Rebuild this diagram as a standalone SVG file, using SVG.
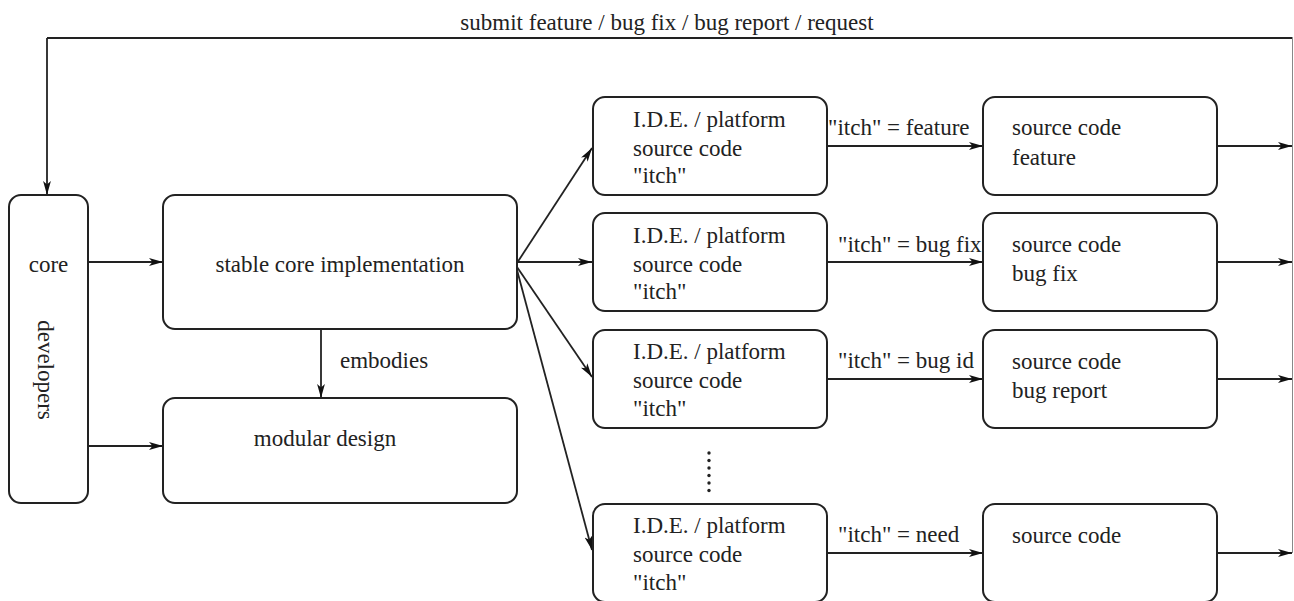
<svg xmlns="http://www.w3.org/2000/svg" width="1294" height="601" viewBox="0 0 1294 601">
<defs>
<marker id="ah" viewBox="0 0 14 9" refX="14" refY="4.5" markerWidth="14" markerHeight="9" markerUnits="userSpaceOnUse" orient="auto">
<path d="M0,0.6 L14,4.5 L0,8.4 L3.5,4.5 z" fill="#111"/>
</marker>
<style>
.box{fill:#fff;stroke:#222;stroke-width:2}
.t{font-family:"Liberation Serif","Times New Roman",serif;font-size:23px;fill:#222}
.c{fill:none;stroke:#222;stroke-width:1.8}
.cm{marker-end:url(#ah)}
</style>
</defs>
<rect width="1294" height="601" fill="#fff"/>

<g id="connectors">
<polyline class="c" points="47,38 1292.5,38" stroke-width="2.4"/>
<line class="c cm" x1="47" y1="38" x2="47" y2="195"/>
<line x1="1292.5" y1="38" x2="1292.5" y2="553" stroke="#888" stroke-width="1"/>
<text class="t" x="667" y="30" text-anchor="middle">submit feature / bug fix / bug report / request</text>
<line class="c cm" x1="88" y1="262" x2="163" y2="262"/>
<line class="c cm" x1="88" y1="446" x2="163" y2="446"/>
<line class="c cm" x1="321" y1="329" x2="321" y2="398"/>
<text class="t" x="340" y="368">embodies</text>
<line class="c cm" x1="517" y1="263" x2="592" y2="148"/>
<line class="c cm" x1="517" y1="262" x2="592" y2="262"/>
<line class="c cm" x1="517" y1="267" x2="592" y2="377"/>
<line class="c cm" x1="517" y1="270" x2="592" y2="550" stroke-width="1.2"/>
<line class="c cm" x1="827" y1="146" x2="983" y2="146"/>
<line class="c cm" x1="827" y1="262" x2="983" y2="262"/>
<line class="c cm" x1="827" y1="379" x2="983" y2="379"/>
<line class="c cm" x1="827" y1="553" x2="983" y2="553"/>
<text class="t" x="828" y="135">"itch" = feature</text>
<text class="t" x="838" y="252">"itch" = bug fix</text>
<text class="t" x="838" y="368">"itch" = bug id</text>
<text class="t" x="838" y="542">"itch" = need</text>
<line class="c cm" x1="1217" y1="146" x2="1292" y2="146"/>
<line class="c cm" x1="1217" y1="262" x2="1292" y2="262"/>
<line class="c cm" x1="1217" y1="379" x2="1292" y2="379"/>
<line class="c cm" x1="1217" y1="553" x2="1292" y2="553"/>
</g>

<g id="ellipsis" fill="#222">
<circle cx="709" cy="453" r="1.7"/>
<circle cx="709" cy="460.5" r="1.7"/>
<circle cx="709" cy="468" r="1.7"/>
<circle cx="709" cy="475.5" r="1.7"/>
<circle cx="709" cy="483" r="1.7"/>
<circle cx="709" cy="490.5" r="1.7"/>
</g>

<g id="core-developers">
<rect class="box" x="9" y="195" width="79" height="308" rx="12"/>
<text class="t" x="48.5" y="272" text-anchor="middle">core</text>
<text class="t" text-anchor="middle" transform="translate(38,370) rotate(90)">developers</text>
</g>

<g id="stable-core">
<rect class="box" x="163" y="195" width="354" height="134" rx="12"/>
<text class="t" x="340" y="272" text-anchor="middle">stable core implementation</text>
</g>

<g id="modular-design">
<rect class="box" x="163" y="398" width="354" height="105" rx="12"/>
<text class="t" x="325" y="446" text-anchor="middle">modular design</text>
</g>

<g id="ide1">
<rect class="box" x="593" y="97" width="234" height="98" rx="12"/>
<text class="t" x="633" y="127">I.D.E. / platform</text>
<text class="t" x="633" y="156">source code</text>
<text class="t" x="633" y="183">"itch"</text>
</g>
<g id="ide2">
<rect class="box" x="593" y="213" width="234" height="98" rx="12"/>
<text class="t" x="633" y="243">I.D.E. / platform</text>
<text class="t" x="633" y="272">source code</text>
<text class="t" x="633" y="299">"itch"</text>
</g>
<g id="ide3">
<rect class="box" x="593" y="330" width="234" height="98" rx="12"/>
<text class="t" x="633" y="359">I.D.E. / platform</text>
<text class="t" x="633" y="388">source code</text>
<text class="t" x="633" y="416">"itch"</text>
</g>
<g id="ide4">
<rect class="box" x="593" y="504" width="234" height="98" rx="12"/>
<text class="t" x="633" y="533">I.D.E. / platform</text>
<text class="t" x="633" y="562">source code</text>
<text class="t" x="633" y="590">"itch"</text>
</g>

<g id="src1">
<rect class="box" x="983" y="97" width="234" height="98" rx="12"/>
<text class="t" x="1012" y="135">source code</text>
<text class="t" x="1012" y="165">feature</text>
</g>
<g id="src2">
<rect class="box" x="983" y="213" width="234" height="98" rx="12"/>
<text class="t" x="1012" y="252">source code</text>
<text class="t" x="1012" y="281">bug fix</text>
</g>
<g id="src3">
<rect class="box" x="983" y="330" width="234" height="98" rx="12"/>
<text class="t" x="1012" y="369">source code</text>
<text class="t" x="1012" y="398">bug report</text>
</g>
<g id="src4">
<rect class="box" x="983" y="504" width="234" height="98" rx="12"/>
<text class="t" x="1012" y="543">source code</text>
</g>
</svg>
